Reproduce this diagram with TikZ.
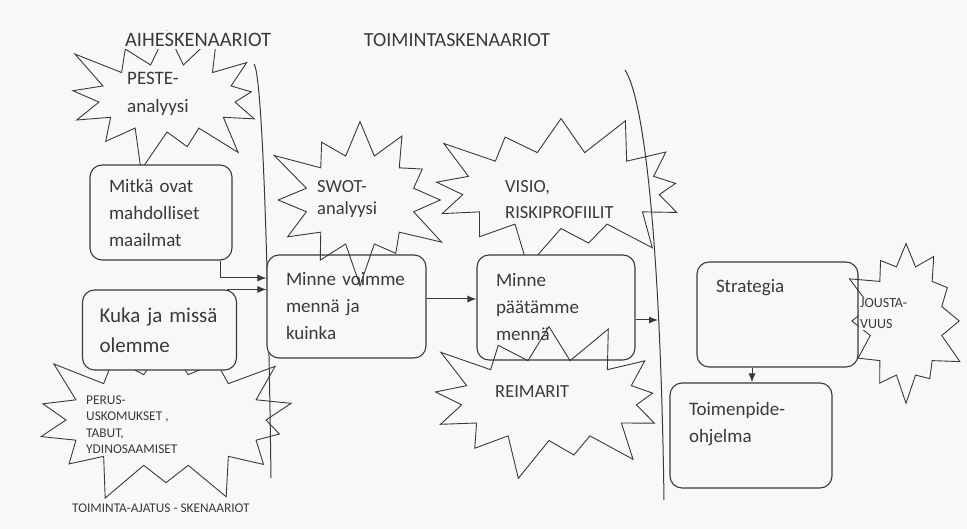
\documentclass[tikz,border=0pt]{standalone}
\usepackage{fontspec}
\setmainfont{Carlito}
\usetikzlibrary{positioning,arrows.meta,shapes.symbols}
\definecolor{ink}{HTML}{3A3A3A}
\definecolor{paper}{HTML}{F7F8F8}

\begin{document}
\begin{tikzpicture}[
    x=1pt, y=-1pt,
    >={Latex[length=9pt,width=7pt]},
    box/.style={rectangle, rounded corners=12pt, draw=ink, line width=1.1pt, fill=paper,
        align=left, text=ink, inner xsep=19pt, font=\fontsize{19}{27}\selectfont},
    burst/.style={starburst, draw=ink, line width=0.9pt, starburst points=#1,
        starburst point height=46pt, inner sep=0pt},
    burst/.default=12,
    bursttext/.style={anchor=west, align=left, inner sep=0pt, text=ink},
    heading/.style={fill=paper, inner sep=2pt, text=ink, font=\fontsize{20.5}{24}\selectfont},
    divider/.style={draw=ink, line width=1pt}
]
    \useasboundingbox (0,0) rectangle (967,529);
    \fill[paper] (0,0) rectangle (967,529);

    % Bursts behind the boxes
    \node[burst=13, minimum width=229pt, minimum height=160pt] (peste) at (167,98) {};
    \node[burst=14, minimum width=292pt, minimum height=185pt] (perus) at (166,420) {};
    \node[burst=13, minimum width=290pt, minimum height=169pt] (visio) at (561,190) {};

    % Dividers
    \draw[divider] (254,64) .. controls (262,74) and (268,250) .. (271,478);
    \draw[divider] (625,70) .. controls (642,95) and (660,220) .. (664,500);
    \coordinate (dvr) at (658,320);

    % Boxes
    \node[box, text width=104pt, minimum height=95pt] (A) at (161,212.5)
        {Mitkä ovat\\mahdolliset\\maailmat};
    \node[box, text width=120pt, inner xsep=17pt, minimum height=80pt,
        font=\fontsize{21}{30}\selectfont] (B) at (159.5,330) {Kuka ja missä\\olemme};
    \node[box, text width=121pt, minimum height=103pt] (C) at (346.5,306.5)
        {Minne voimme\\mennä ja\\kuinka};
    \node[box, text width=120pt, minimum height=105pt] (D) at (556,307.5)
        {Minne\\päätämme\\mennä};
    \node[box, text width=123pt, minimum height=105pt, text height=14pt, text depth=57pt] (E)
        at (777.5,314.5) {Strategia};
    \node[box, text width=124pt, minimum height=105pt, text depth=53pt] (F)
        at (751,435.5) {Toimenpide-\\ohjelma};

    % Bursts over the boxes
    \node[burst=12, minimum width=203pt, minimum height=183pt] (swot) at (360,200) {};
    \node[burst=13, minimum width=268pt, minimum height=173pt] (reimarit) at (549,400) {};
    \node[burst=12, starburst point height=30pt, minimum width=134pt, minimum height=172pt] (jousta) at (906,321) {};

    % Burst texts
    \node[bursttext, font=\fontsize{19}{28}\selectfont] (peste-t) at (127,94) {PESTE-\\analyysi};
    \node[bursttext, font=\fontsize{18.5}{22}\selectfont] (swot-t) at (317,199) {SWOT-\\analyysi};
    \node[bursttext, font=\fontsize{18.5}{26}\selectfont] (visio-t) at (505,200) {VISIO,\\RISKIPROFIILIT};
    \node[bursttext, font=\fontsize{18.5}{22}\selectfont] (reimarit-t) at (495,392) {REIMARIT};
    \node[bursttext, font=\fontsize{13.4}{16.5}\selectfont] (perus-t) at (86,424.5)
        {PERUS-\\USKOMUKSET ,\\TABUT,\\YDINOSAAMISET};
    \node[bursttext, fill=paper, inner sep=1pt, font=\fontsize{14}{21}\selectfont] (jousta-t)
        at (859,314) {JOUSTA-\\VUUS};

    % Titles
    \node[heading] (aihe) at (198,40) {AIHESKENAARIOT};
    \node[heading, font=\fontsize{20}{24}\selectfont] (toiminta) at (457,40) {TOIMINTASKENAARIOT};
    \node[heading, anchor=west, font=\fontsize{13.3}{16}\selectfont] (ajatus) at (70,508)
        {TOIMINTA-AJATUS - SKENAARIOT};

    % Arrows
    \draw[->, ink, line width=1pt] ([xshift=-12pt]A.south east) |- (C.west |- 0,278);
    \draw[->, ink, line width=1pt] ([xshift=-10pt]B.north east) -- (C.west |- B.north east);
    \draw[->, ink, line width=1pt] (C.east |- 0,299) -- (D.west |- 0,299);
    \draw[->, ink, line width=1pt] (D.east |- dvr) -- (dvr);
    \draw[->, ink, line width=1pt] (E.south -| 752,0) -- (F.north -| 752,0);
\end{tikzpicture}
\end{document}
